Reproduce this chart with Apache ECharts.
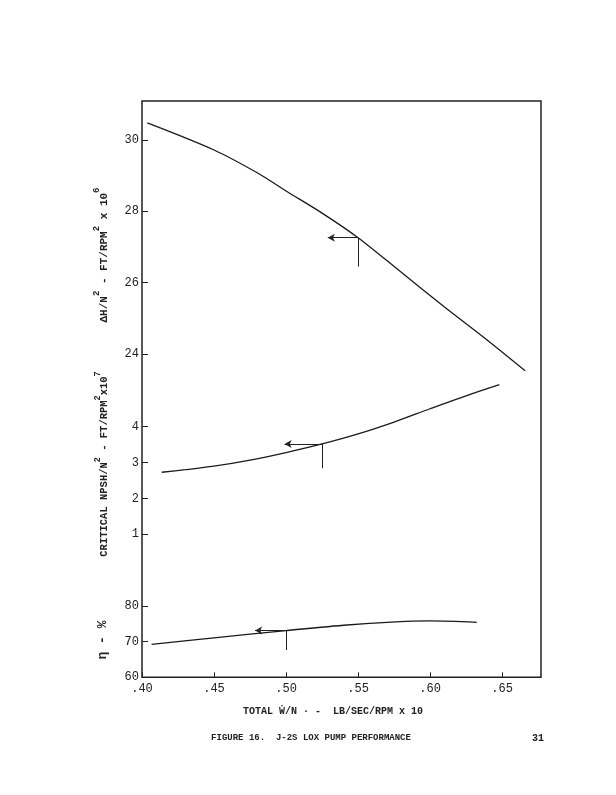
<!DOCTYPE html>
<html>
<head>
<meta charset="utf-8">
<script src="https://cdn.jsdelivr.net/npm/echarts@6/dist/echarts.min.js"></script>
<style>
html,body{margin:0;padding:0;background:#fff;}
#chart{width:616px;height:795px;}
</style>
</head>
<body>
<div id="chart"></div>
<script>
// ---- data ----
const xTicks = [0.40, 0.45, 0.50, 0.55, 0.60, 0.65];
const headTicks = [24, 26, 28, 30];
const npshTicks = [1, 2, 3, 4];
const effTicks = [60, 70, 80];

// Delta H / N^2 (FT/RPM^2 x 10^6)
const headX = [0.4037, 0.45, 0.48, 0.50, 0.525, 0.55, 0.58, 0.61, 0.64, 0.666];
const headY = [30.48, 29.72, 29.08, 28.57, 27.95, 27.26, 26.29, 25.32, 24.38, 23.53];

// Critical NPSH / N^2 (FT/RPM^2 x 10^7)
const npshX = [0.4137, 0.43, 0.45, 0.475, 0.50, 0.525, 0.55, 0.575, 0.60, 0.625, 0.6481];
const npshY = [2.73, 2.80, 2.90, 3.07, 3.28, 3.52, 3.80, 4.13, 4.50, 4.86, 5.17];

// Efficiency (%)
const effX = [0.4067, 0.45, 0.50, 0.54, 0.57, 0.60, 0.6324];
const effY = [69.26, 71.05, 73.10, 74.60, 75.40, 75.80, 75.40];

// design-point markers: [x, yOnCurve, arrowToX, stemDownToY]
const headMark = [0.55, 27.26, 0.529, 26.45];
const npshMark = [0.525, 3.52, 0.499, 2.84];
const effMark  = [0.50, 73.10, 0.4785, 67.66];

// ---- chart ----
const FONT = '"Liberation Mono", "DejaVu Sans Mono", monospace';
const chart = echarts.init(document.getElementById('chart'), null, {renderer:'canvas'});

function zip(xs, ys){ return xs.map((x,i)=>[x, ys[i]]); }
function markLines(m){
  return {
    silent: true,
    animation: false,
    label: {show:false},
    lineStyle: {color:'#222', width:1, type:'solid'},
    symbolSize: [6, 7],
    data: [
      [{coord:[m[0], m[1]], symbol:'none'}, {coord:[m[2], m[1]], symbol:'arrow'}],
      [{coord:[m[0], m[1]], symbol:'none'}, {coord:[m[0], m[3]], symbol:'none'}]
    ]
  };
}
function yAxis(min, max, ticks){
  return {
    type:'value', position:'left', min:min, max:max,
    splitLine:{show:false},
    axisLine:{show:false, onZero:false},
    axisTick:{show:true, inside:true, length:6, customValues:ticks, lineStyle:{color:'#222', width:1}},
    axisLabel:{show:true, customValues:ticks, margin:3, color:'#222', fontFamily:FONT, fontSize:12}
  };
}
const lineStyle = {color:'#1a1a1a', width:1.3};
const smooth = 0.3;

function titleRich(size){
  return {
    n:{fontFamily:FONT, fontWeight:'bold', fontSize:size, lineHeight:size+6, verticalAlign:'bottom', fill:'#222', color:'#222'},
    s:{fontFamily:FONT, fontWeight:'bold', fontSize:size-2, lineHeight:size+6, verticalAlign:'top', fill:'#222', color:'#222'}
  };
}

chart.setOption({
  animation:false,
  backgroundColor:'#fff',
  grid:{left:142, right:75, top:101, bottom:117.7, show:true, borderColor:'#222', borderWidth:1.5, backgroundColor:'transparent'},
  xAxis:{
    type:'value', min:0.40, max:0.677, position:'bottom',
    splitLine:{show:false},
    axisLine:{show:false, onZero:false},
    axisTick:{show:true, inside:true, length:5, customValues:xTicks, lineStyle:{color:'#222'}},
    axisLabel:{show:true, customValues:xTicks, margin:6, color:'#222', fontFamily:FONT, fontSize:12,
      formatter:v=>'.' + Math.round(v*100)}
  },
  yAxis:[
    yAxis(14.936, 31.093, headTicks),
    yAxis(-2.987, 13.08, npshTicks),
    yAxis(60, 221.65, effTicks)
  ],
  series:[
    {type:'line', yAxisIndex:0, data:zip(headX, headY), smooth:smooth, showSymbol:false, lineStyle:lineStyle, markLine:markLines(headMark)},
    {type:'line', yAxisIndex:1, data:zip(npshX, npshY), smooth:smooth, showSymbol:false, lineStyle:lineStyle, markLine:markLines(npshMark)},
    {type:'line', yAxisIndex:2, data:zip(effX, effY), smooth:smooth, showSymbol:false, lineStyle:lineStyle, markLine:markLines(effMark)}
  ],
  graphic:[
    {type:'text', x:101, y:255, rotation:Math.PI/2,
      style:{text:'{n|ΔH/N}{s|2}{n| - FT/RPM}{s|2}{n| x 10}{s|6}', rich:titleRich(11), fill:'#222', textAlign:'center', textVerticalAlign:'middle'}},
    {type:'text', x:102, y:464, rotation:Math.PI/2,
      style:{text:'{n|CRITICAL NPSH/N}{s|2}{n| - FT/RPM}{s|2}{n|x10}{s|7}', rich:titleRich(10.5), fill:'#222', textAlign:'center', textVerticalAlign:'middle'}},
    {type:'text', x:103, y:640, rotation:Math.PI/2,
      style:{text:'η - %', font:'bold 13px ' + FONT, fill:'#222', textAlign:'center', textVerticalAlign:'middle'}},
    {type:'text', x:333, y:711,
      style:{text:'TOTAL Ẇ/N · -  LB/SEC/RPM x 10', font:'bold 10px ' + FONT, fill:'#222', textAlign:'center', textVerticalAlign:'middle'}},
    {type:'text', x:311, y:738,
      style:{text:'FIGURE 16.  J-2S LOX PUMP PERFORMANCE', font:'bold 9px ' + FONT, fill:'#222', textAlign:'center', textVerticalAlign:'middle'}},
    {type:'text', x:538, y:738,
      style:{text:'31', font:'bold 10px ' + FONT, fill:'#222', textAlign:'center', textVerticalAlign:'middle'}}
  ]
});
</script>
</body>
</html>
